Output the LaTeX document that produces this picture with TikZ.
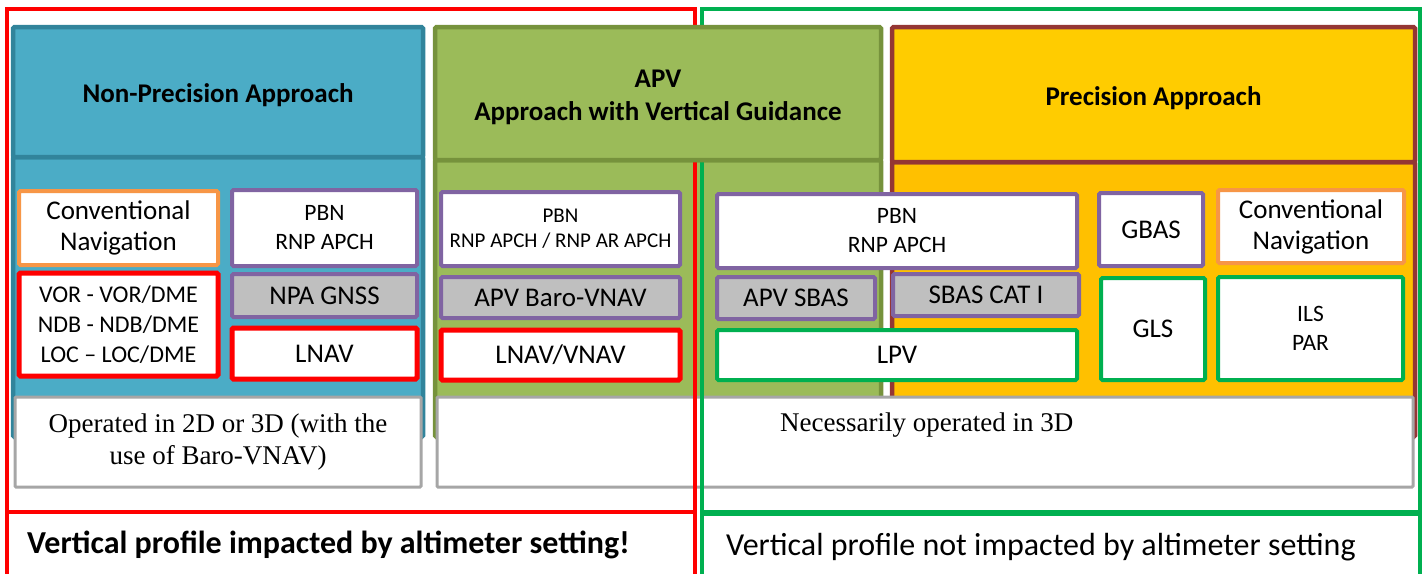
\documentclass[tikz,border=0pt]{standalone}
\usepackage{fontspec}
\setmainfont{Carlito}
\newfontfamily\tnr{Liberation Serif}
\definecolor{npafill}{HTML}{4BACC6}
\definecolor{npaline}{HTML}{31849B}
\definecolor{apvfill}{HTML}{9BBB59}
\definecolor{apvline}{HTML}{76923C}
\definecolor{pahead}{HTML}{FFCC00}
\definecolor{pabody}{HTML}{FFC000}
\definecolor{paline}{HTML}{943634}
\definecolor{purp}{HTML}{8064A2}
\definecolor{orng}{HTML}{F79646}
\definecolor{gfill}{HTML}{BFBFBF}
\definecolor{gline}{HTML}{A6A6A6}
\definecolor{frgreen}{HTML}{00B050}
\definecolor{frred}{HTML}{FF0000}
\tikzset{
  colbox/.style={draw=#1, line width=4.5pt, rounded corners=1.5pt, inner sep=0pt},
  headtxt/.style={inner sep=0pt, align=center, font=\bfseries\fontsize{27}{33}\selectfont},
  ibox/.style={draw=#1, fill=white, line width=4pt, rounded corners=1.5pt, inner sep=0pt, align=center,
     font=\fontsize{27}{31}\selectfont},
  redbox/.style={ibox=frred, line width=5pt},
  graybox/.style={ibox=purp, fill=gfill},
  smalltxt/.style={font=\fontsize{23.5}{29}\selectfont},
  opbox/.style={draw=gline, fill=white, line width=3pt, rounded corners=1pt, inner sep=0pt, align=center,
     font=\tnr\fontsize{27}{32}\selectfont},
  frame/.style={draw=#1, line width=4pt, inner sep=0pt},
}
\begin{document}
\begin{tikzpicture}[x=1pt,y=-1pt]
\useasboundingbox (0,0) rectangle (1426,573);
% column bodies
\node[colbox=npaline, fill=npafill, minimum width=410pt, minimum height=280pt] (npab) at (218,297) {};
\node[colbox=apvline, fill=apvfill, minimum width=446pt, minimum height=277pt] (apvb) at (658,298.5) {};
\node[colbox=paline, fill=pabody, minimum width=523pt, minimum height=275pt] (pab) at (1153.5,299.5) {};
% operation boxes
\node[opbox, minimum width=406pt, minimum height=90pt] (op1) at (218,442) {Operated in 2D or 3D (with the\\use of Baro-VNAV)};
\node[opbox, minimum width=976pt, minimum height=90pt] (op2) at (925,442) {};
\node[font=\tnr\fontsize{27}{32}\selectfont, anchor=west, inner sep=0pt] (op2t) at (780,425) {Necessarily operated in 3D};
% frames
\node[frame=frred, minimum width=688pt, minimum height=503pt] (redtop) at (351,260.5) {};
\node[frame=frred, minimum width=688pt, minimum height=70pt] (redbot) at (351,547) {};
\node[frame=frgreen, minimum width=718pt, minimum height=503pt] (greentop) at (1061,260.5) {};
\node[frame=frgreen, minimum width=718pt, minimum height=68pt] (greenbot) at (1061,548) {};
\node[font=\bfseries\fontsize{32}{36}\selectfont, anchor=west, inner sep=0pt] (imp) at (27,545) {Vertical profile impacted by altimeter setting!};
\node[font=\fontsize{32}{36}\selectfont, anchor=west, inner sep=0pt] (notimp) at (726,547) {Vertical profile not impacted by altimeter setting};
% headers
\node[colbox=npaline, fill=npafill, minimum width=410pt, minimum height=130pt] (npah) at (218,92) {};
\node[colbox=apvline, fill=apvfill, minimum width=446pt, minimum height=133pt] (apvh) at (658,93.5) {};
\node[colbox=paline, fill=pahead, minimum width=523pt, minimum height=135pt] (pah) at (1153.5,94.5) {};
\node[headtxt] (npat) at (218,95) {Non-Precision Approach};
\node[headtxt] (apvt) at (658,97) {APV\\Approach with Vertical Guidance};
\node[headtxt] (pat) at (1153.5,98) {Precision Approach};
% NPA inner boxes
\node[ibox=orng, minimum width=199pt, minimum height=74pt] (conv1) at (118.5,228) {Conventional\\Navigation};
\node[redbox, minimum width=199pt, minimum height=103pt, font=\fontsize{24}{30}\selectfont] (vor) at (118.5,324.5) {VOR - VOR/DME\\NDB - NDB/DME\\LOC -- LOC/DME};
\node[ibox=purp, smalltxt, minimum width=185pt, minimum height=76pt] (pbn1) at (324.5,228) {PBN\\RNP APCH};
\node[graybox, minimum width=185pt, minimum height=43pt] (npagnss) at (324.5,295.5) {NPA GNSS};
\node[redbox, minimum width=185pt, minimum height=51pt] (lnav) at (324.5,353.5) {LNAV};
% APV inner boxes
\node[ibox=purp, font=\fontsize{21}{25}\selectfont, minimum width=239pt, minimum height=74pt] (pbn2) at (560.5,229) {PBN\\RNP APCH / RNP AR APCH};
\node[graybox, minimum width=239pt, minimum height=41pt] (baro) at (560.5,297.5) {APV Baro-VNAV};
\node[redbox, minimum width=239pt, minimum height=50pt] (lnavvnav) at (560.5,355) {LNAV/VNAV};
\node[ibox=purp, smalltxt, minimum width=360pt, minimum height=74pt] (pbn3) at (897,231) {PBN\\RNP APCH};
\node[graybox, minimum width=158pt, minimum height=42pt] (apvsbas) at (796,298) {APV SBAS};
\node[graybox, minimum width=186pt, minimum height=42pt] (sbascat) at (986,295) {SBAS CAT I};
\node[ibox=frgreen, minimum width=360pt, minimum height=50pt] (lpv) at (897,355) {LPV};
% PA inner boxes
\node[ibox=purp, minimum width=104pt, minimum height=73pt] (gbas) at (1151,229.5) {GBAS};
\node[ibox=orng, minimum width=186pt, minimum height=73pt] (conv2) at (1311,226.5) {Conventional\\Navigation};
\node[ibox=frgreen, minimum width=104pt, minimum height=102pt] (gls) at (1153,329) {GLS};
\node[ibox=frgreen, smalltxt, minimum width=185pt, minimum height=103pt] (ils) at (1310.5,328.5) {ILS\\PAR};
\end{tikzpicture}
\end{document}
